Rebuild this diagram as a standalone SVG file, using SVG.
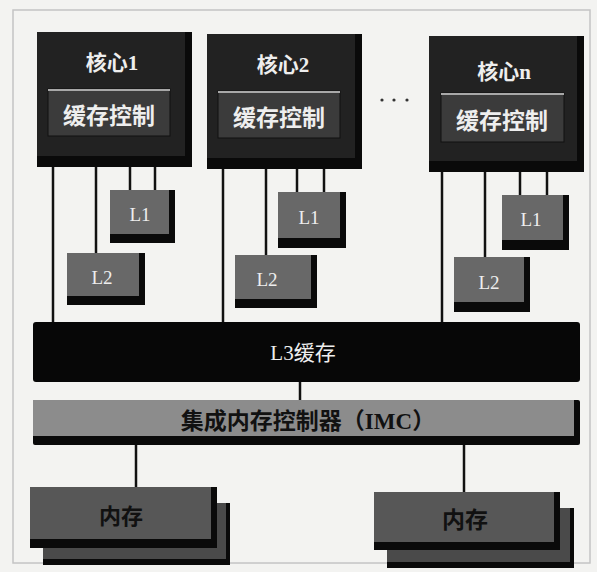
<svg xmlns="http://www.w3.org/2000/svg" width="597" height="572" viewBox="0 0 597 572">
<defs>
<style>
.bg{fill:#f3f3f1}
.frame{fill:none;stroke:#c4c4c4;stroke-width:1.5}
.sh{fill:#0a0a0a}
.core{fill:#222222}
.cc{fill:#3b3b3b;stroke:#111;stroke-width:1}
.ccl{stroke:#a8a8a8;stroke-width:2}
.lc{fill:#686868}
.l3{fill:#070707}
.imc{fill:#8c8c8c}
.mem{fill:#575757}
.memb{fill:#4a4a4a}
.w{fill:#eeeeee;font-family:"Liberation Serif","Noto Sans CJK SC",serif;text-anchor:middle;dominant-baseline:central}
.b{font-weight:bold}
.d{fill:#111;font-family:"Liberation Serif","Noto Sans CJK SC",serif;font-weight:bold;text-anchor:middle;dominant-baseline:central}
.ln{stroke:#111;stroke-width:2.5;fill:none}
</style>
</defs>
<rect class="bg" x="0" y="0" width="597" height="572"/>
<rect class="frame" x="13" y="10" width="577" height="553"/>

<g id="connectors">
<line class="ln" x1="53" y1="165" x2="53" y2="323"/>
<line class="ln" x1="96" y1="165" x2="96" y2="254"/>
<line class="ln" x1="130" y1="165" x2="130" y2="191"/>
<line class="ln" x1="155" y1="165" x2="155" y2="191"/>
<line class="ln" x1="223" y1="167" x2="223" y2="323"/>
<line class="ln" x1="266" y1="167" x2="266" y2="256"/>
<line class="ln" x1="297" y1="167" x2="297" y2="193"/>
<line class="ln" x1="324" y1="167" x2="324" y2="193"/>
<line class="ln" x1="442" y1="170" x2="442" y2="323"/>
<line class="ln" x1="485" y1="170" x2="485" y2="258"/>
<line class="ln" x1="520" y1="170" x2="520" y2="196"/>
<line class="ln" x1="547" y1="170" x2="547" y2="196"/>
<line class="ln" x1="300" y1="381" x2="300" y2="401"/>
<line class="ln" x1="136" y1="444" x2="136" y2="488"/>
<line class="ln" x1="464" y1="444" x2="464" y2="493"/>
</g>

<g id="core1">
<rect class="sh" x="37" y="32" width="155" height="135"/>
<rect class="core" x="37" y="32" width="148" height="124"/>
<text class="w b" x="112" y="63" font-size="21">核心1</text>
<rect class="cc" x="48" y="89" width="122" height="47"/>
<line class="ccl" x1="48" y1="90" x2="170" y2="90"/>
<text class="w b" x="109" y="116" font-size="23">缓存控制</text>
</g>
<g id="core2">
<rect class="sh" x="207" y="34" width="155" height="135"/>
<rect class="core" x="207" y="34" width="148" height="124"/>
<text class="w b" x="283" y="65" font-size="21">核心2</text>
<rect class="cc" x="218" y="91" width="122" height="47"/>
<line class="ccl" x1="218" y1="92" x2="340" y2="92"/>
<text class="w b" x="279" y="118" font-size="23">缓存控制</text>
</g>
<g id="dots">
<circle cx="382" cy="100" r="1.6" fill="#333"/>
<circle cx="394" cy="100" r="1.6" fill="#333"/>
<circle cx="407" cy="100" r="1.6" fill="#333"/>
</g>
<g id="coren">
<rect class="sh" x="429" y="36" width="155" height="136"/>
<rect class="core" x="429" y="36" width="148" height="125"/>
<text class="w b" x="504" y="72" font-size="21">核心n</text>
<rect class="cc" x="441" y="93" width="123" height="49"/>
<line class="ccl" x1="441" y1="94" x2="564" y2="94"/>
<text class="w b" x="502" y="121" font-size="23">缓存控制</text>
</g>

<g id="l1-1">
<rect class="sh" x="110" y="190" width="65" height="53"/>
<rect class="lc" x="110" y="190" width="59" height="44"/>
<text class="w" x="140" y="214" font-size="19">L1</text>
</g>
<g id="l2-1">
<rect class="sh" x="67" y="253" width="78" height="52"/>
<rect class="lc" x="67" y="253" width="72" height="43"/>
<text class="w" x="102" y="277" font-size="19">L2</text>
</g>
<g id="l1-2">
<rect class="sh" x="278" y="192" width="68" height="56"/>
<rect class="lc" x="278" y="192" width="62" height="46"/>
<text class="w" x="309" y="217" font-size="19">L1</text>
</g>
<g id="l2-2">
<rect class="sh" x="235" y="255" width="82" height="53"/>
<rect class="lc" x="235" y="255" width="76" height="44"/>
<text class="w" x="267" y="279" font-size="19">L2</text>
</g>
<g id="l1-n">
<rect class="sh" x="502" y="195" width="67" height="55"/>
<rect class="lc" x="502" y="195" width="61" height="45"/>
<text class="w" x="531" y="219" font-size="19">L1</text>
</g>
<g id="l2-n">
<rect class="sh" x="454" y="257" width="76" height="55"/>
<rect class="lc" x="454" y="257" width="70" height="45"/>
<text class="w" x="489" y="282" font-size="19">L2</text>
</g>

<g id="l3">
<rect class="l3" x="33" y="322" width="547" height="60" rx="3"/>
<text class="w" x="303" y="353" font-size="21">L3缓存</text>
</g>
<g id="imc">
<rect class="sh" x="33" y="400" width="547" height="45" rx="2"/>
<rect class="imc" x="33" y="400" width="541" height="36"/>
<text class="d" x="308" y="421" font-size="23">集成内存控制器（IMC）</text>
</g>

<g id="mem1">
<rect class="sh" x="43" y="503" width="187" height="62"/>
<rect class="memb" x="43" y="503" width="183" height="56"/>
<rect class="sh" x="30" y="487" width="187" height="61"/>
<rect class="mem" x="30" y="487" width="181" height="52"/>
<text class="d" x="121" y="516" font-size="22">内存</text>
</g>
<g id="mem2">
<rect class="sh" x="387" y="508" width="187" height="60"/>
<rect class="memb" x="387" y="508" width="183" height="54"/>
<rect class="sh" x="374" y="492" width="186" height="58"/>
<rect class="mem" x="374" y="492" width="180" height="50"/>
<text class="d" x="465" y="520" font-size="23">内存</text>
</g>
</svg>
